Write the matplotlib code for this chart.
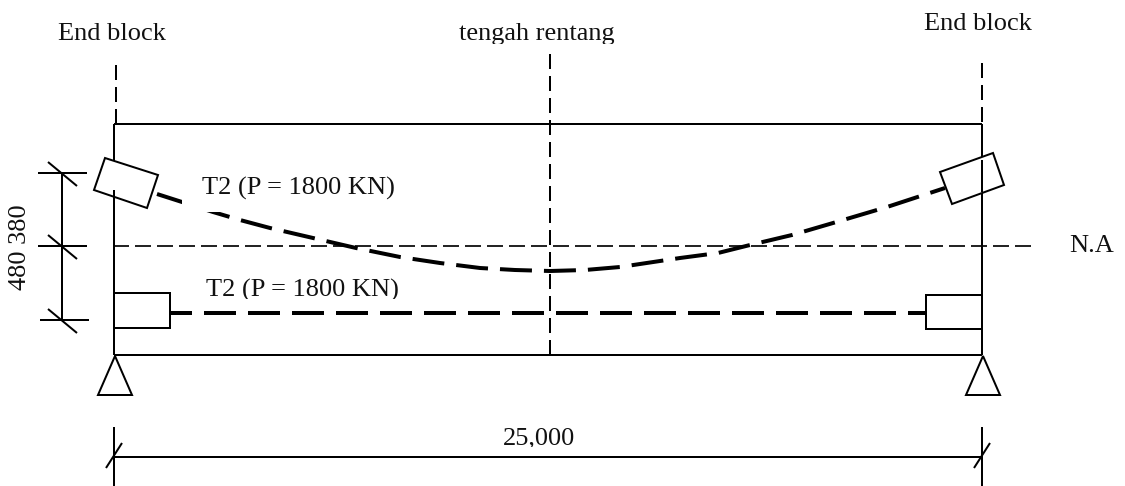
"""
Prestressed girder tendon layout: elevation sketch, drawn in image pixel coordinates.
"""

import matplotlib
matplotlib.use('Agg')
import matplotlib.pyplot as plt
from matplotlib.patches import Polygon, Rectangle

plt.rcParams['font.family'] = ['Liberation Serif', 'DejaVu Serif']
plt.rcParams['lines.scale_dashes'] = False

W, H = 1125, 486
PX = 0.72  # one pixel in points at dpi 100

# girder outline
beam_x = [114, 982]
beam_top = 124
beam_bot = 355
mid_x = 550
na_y = 246

# parabolic tendon
tendon1_x = [157, 182, 213, 240, 270, 313, 356, 400, 440, 480, 515, 550,
             585, 620, 680, 718, 750, 792, 833, 887, 945]
tendon1_y = [194, 202, 212, 220, 228, 238, 248, 257, 263, 268, 270, 271,
             270, 267, 258, 253, 245, 235, 223, 207, 188]

# straight tendon
tendon2_y = 313
tendon2_x = [170, 926]

# anchor blocks
anchor_tl = [(105, 158), (158, 175), (147, 208), (94, 190)]
anchor_tr = [(940, 172), (993, 153), (1004, 185), (952, 204)]
anchor_bl = [(114, 293), (170, 293), (170, 328), (114, 328)]
anchor_br = [(926, 295), (982, 295), (982, 329), (926, 329)]

# supports
support_apex_y = 356
support_base_y = 395
support_half = 17

# dimension lines
dim_v_x = 62
dim_v_y = [173, 246, 320]
dim_h_y = 457

# text, x and baseline y
labels = [
    ('End block', 58, 40),
    ('End block', 924, 30),
    ('tengah rentang', 459, 40),
    ('T2 (P = 1800 KN)', 202, 195),
    ('T2 (P = 1800 KN)', 206, 297),
    ('N.A', 1069, 252),
    ('25,000', 503, 444),
]


def line(ax, xs, ys, lw=2.0, **kw):
    ax.plot(xs, ys, color='black', lw=lw * PX, solid_capstyle='butt',
            dash_capstyle='butt', **kw)


def dashed(ax, xs, ys, on, off, lw=2.0, offset=0, zorder=2):
    ls = (offset * PX, (on * PX, off * PX))
    line(ax, xs, ys, lw=lw, linestyle=ls, zorder=zorder)


fig = plt.figure(figsize=(W / 100, H / 100), dpi=100)
ax = fig.add_axes([0, 0, 1, 1])
ax.set_xlim(0, W)
ax.set_ylim(H, 0)
ax.axis('off')

# girder
line(ax, [beam_x[0], beam_x[1]], [beam_top, beam_top])
line(ax, [beam_x[0], beam_x[1]], [beam_bot, beam_bot])
line(ax, [beam_x[0], beam_x[0]], [beam_top, beam_bot])
line(ax, [beam_x[1], beam_x[1]], [beam_top, beam_bot])

# centre lines
dashed(ax, [116, 116], [65, beam_top], 15, 7)
dashed(ax, [beam_x[1], beam_x[1]], [63, beam_top], 15, 7)
dashed(ax, [mid_x, mid_x], [54, beam_bot], 15, 7)
dashed(ax, [113, 1031], [na_y, na_y], 16, 6, lw=1.7)

# tendons
dashed(ax, tendon1_x, tendon1_y, 32, 12, lw=4, zorder=3)
dashed(ax, tendon2_x, [tendon2_y, tendon2_y], 32, 12, lw=4, offset=-34, zorder=3)

# white patch the upper label sits on, it cuts the tendon
ax.add_patch(Rectangle((182, 170), 220, 42, fc='white', ec='none', zorder=4))

# anchors
for pts, filled in [(anchor_tl, True), (anchor_tr, True),
                    (anchor_bl, False), (anchor_br, False)]:
    ax.add_patch(Polygon(pts, closed=True, fc='white' if filled else 'none',
                         ec='black', lw=2.0 * PX, zorder=5))
line(ax, [beam_x[0], beam_x[0]], [190, 208], zorder=5)
line(ax, [beam_x[1], beam_x[1]], [160, 192], zorder=5)

# supports
for x in [beam_x[0] + 1, beam_x[1] + 1]:
    ax.add_patch(Polygon([(x, support_apex_y), (x - support_half, support_base_y),
                          (x + support_half, support_base_y)],
                         closed=True, fc='none', ec='black', lw=2.0 * PX, zorder=5))

# vertical dimension
line(ax, [dim_v_x, dim_v_x], [dim_v_y[0], dim_v_y[-1]])
for y in dim_v_y:
    x0 = 38 if y != dim_v_y[-1] else 40
    line(ax, [x0, x0 + 49], [y, y])
    line(ax, [48, 77], [y - 11, y + 13])

# horizontal dimension
line(ax, beam_x, [dim_h_y, dim_h_y])
for x in beam_x:
    line(ax, [x, x], [427, H])
    line(ax, [x - 8, x + 8], [dim_h_y + 11, dim_h_y - 14])

# text
for txt, x, y in labels:
    ax.text(x, y, txt, fontsize=19, ha='left', va='baseline', color='#111111', zorder=6)
ax.text(20, 247, '480 380', fontsize=19, rotation=90, ha='center', va='center',
        color='#111111', zorder=6)

# labels are cropped at the bottom in the sketch
ax.add_patch(Rectangle((200, 299), 205, 7, fc='white', ec='none', zorder=7))
ax.add_patch(Rectangle((455, 44), 170, 6, fc='white', ec='none', zorder=7))
ax.add_patch(Rectangle((500, 447), 75, 5, fc='white', ec='none', zorder=7))

fig.savefig('out.png', dpi=100)
plt.close(fig)
